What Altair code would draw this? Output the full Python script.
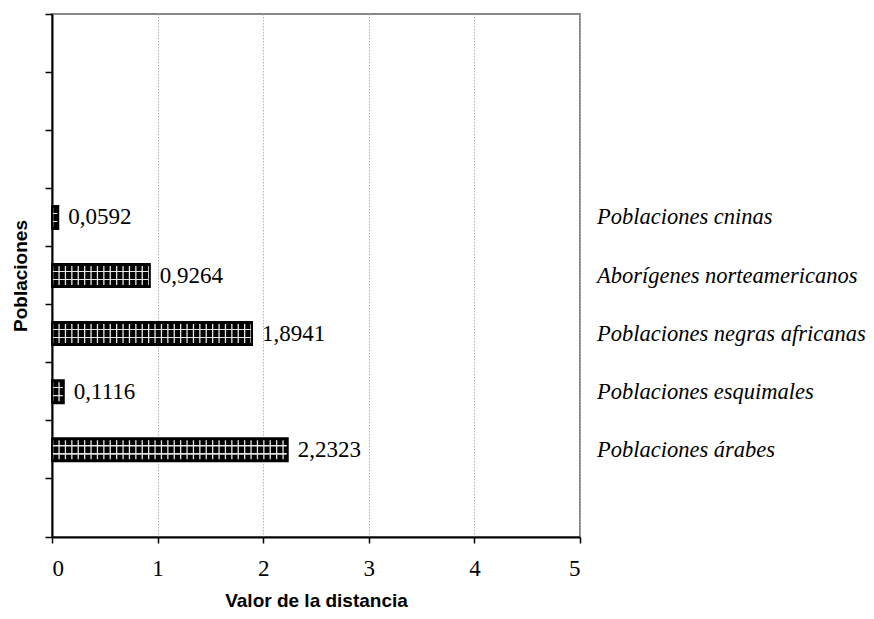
import altair as alt
import pandas as pd

# Data
categories = [
    "Poblaciones cninas",
    "Aborígenes norteamericanos",
    "Poblaciones negras africanas",
    "Poblaciones esquimales",
    "Poblaciones árabes",
]
values = [0.0592, 0.9264, 1.8941, 0.1116, 2.2323]
x_ticks = [0, 1, 2, 3, 4, 5]

# Category slots on the axis (empty slots above and below, as in the original)
y_order = [" ", "  ", "   "] + categories + ["    "]

df = pd.DataFrame({
    "cat": categories,
    "val": values,
    "label": [f"{v:.4f}".replace(".", ",") for v in values],
})

W, H = 528, 523
SERIF = "Liberation Serif"
SANS = "Liberation Sans"

y_enc = alt.Y(
    "cat:N",
    sort=y_order,
    scale=alt.Scale(domain=y_order, paddingInner=0, paddingOuter=0),
    axis=alt.Axis(
        title="Poblaciones",
        labels=False,
        bandPosition=1,
        tickExtra=True,
        tickSize=7,
        tickColor="black",
        tickWidth=1.5,
        domainColor="black",
        domainWidth=2,
        grid=False,
        titleFont=SANS,
        titleFontSize=19,
        titleFontWeight="bold",
        titleColor="black",
        titlePadding=14,
    ),
)

x_enc = alt.X(
    "val:Q",
    scale=alt.Scale(domain=[0, 5], nice=False),
    axis=alt.Axis(
        title="Valor de la distancia",
        values=x_ticks,
        format="d",
        tickSize=6,
        tickColor="black",
        tickWidth=1.5,
        domainColor="black",
        domainWidth=2,
        grid=True,
        gridColor="#b4b4b4",
        gridDash=[1.5, 1.5],
        gridWidth=1,
        labelFont=SERIF,
        labelFontSize=23,
        labelColor="black",
        labelPadding=14,
        titleFont=SANS,
        titleFontSize=19,
        titleFontWeight="bold",
        titleColor="black",
        titlePadding=11,
    ),
)

base = alt.Chart(df)

pattern_fill = {
    "gradient": "linear",
    "x1": 0, "y1": 0, "x2": 0, "y2": 1,
    "stops": [
        {"offset": 0.0, "color": "black"},
        {"offset": 0.29, "color": "black"},
        {"offset": 0.30, "color": "#e6e6e6"},
        {"offset": 0.35, "color": "#e6e6e6"},
        {"offset": 0.36, "color": "black"},
        {"offset": 0.64, "color": "black"},
        {"offset": 0.65, "color": "#e6e6e6"},
        {"offset": 0.70, "color": "#e6e6e6"},
        {"offset": 0.71, "color": "black"},
        {"offset": 1.0, "color": "black"},
    ],
}

bars = base.mark_bar(size=23, fill=pattern_fill, strokeWidth=0).encode(x=x_enc, y=y_enc)

vstripes = base.mark_rule(
    color="#e6e6e6", strokeWidth=19, strokeDash=[1.3, 5.1], strokeCap="butt"
).encode(x=alt.X("zero:Q"), x2="val:Q", y=alt.Y("cat:N", sort=y_order)).transform_calculate(zero="0")

outline = base.mark_bar(
    size=23, fillOpacity=0, stroke="black", strokeWidth=2
).encode(x="val:Q", y=alt.Y("cat:N", sort=y_order))

value_labels = base.mark_text(
    align="left", baseline="middle", dx=10, font=SERIF, fontSize=23, color="black"
).encode(x="val:Q", y=alt.Y("cat:N", sort=y_order), text="label:N")

cat_labels = base.mark_text(
    align="left", baseline="middle", font=SERIF, fontSize=22.5, fontStyle="italic", color="black"
).encode(x=alt.value(W + 17), y=alt.Y("cat:N", sort=y_order), text="cat:N")

chart = (
    alt.layer(bars, vstripes, outline, value_labels, cat_labels)
    .properties(
        width=W,
        height=H,
        autosize=alt.AutoSizeParams(type="none"),
        padding={"left": 44, "top": 6, "right": 286, "bottom": 74},
        background="white",
    )
    .configure_view(stroke="#888888", strokeWidth=2)
)

chart.save("out.html", embed_options={"renderer": "svg", "actions": False})
